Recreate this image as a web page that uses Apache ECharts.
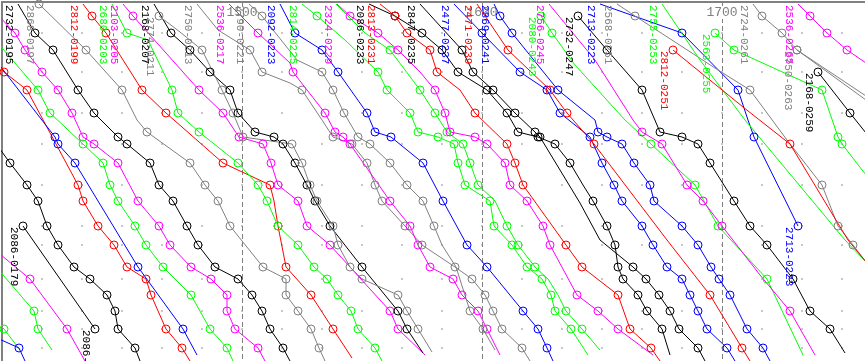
<!DOCTYPE html>
<html><head><meta charset="utf-8">
<script src="https://cdn.jsdelivr.net/npm/echarts@6/dist/echarts.min.js"></script>
<style>html,body{margin:0;padding:0;background:#fff}#c{width:865px;height:361px}</style>
</head><body><div id="c"></div>
<script>
// time in minutes after 14:00, distance in km from the first station (top)
const stationKm = [2,14,31,48,70,88,111,130,135,142,161,183,199,224,243,265,277,293,309,327,346];
const hourLabels = ['1400','1500','1600','1700'];
const dotStations = [2,4,6,9,11,13,14,16,18,19,20];
const dotMinutes = [10,20,30,40,50,60,70,80,90,100,110,120,130,140,150,160,170,180,190,200,210];

// a third value 0 marks a passing point (no stop circle)
const t2732_0195 = [[4,2,0],[8.25,31],[12.75,48],[19,88],[23,111],[29,135],[31.25,142],[37,161],[39.25,183],[42.75,199],[46.25,224],[49,243],[53.25,265],[59,277],[62.5,293],[65,309],[67,327],[70.25,346],[72,359,0]];
const t2868_0197 = [[9.25,2],[21,48],[30,88],[33.75,118,0],[36.25,130],[47,161],[50.75,183],[54,199],[57,224],[65.25,265],[71,277],[71,293],[74,309],[77.25,327],[79.25,346],[80.75,359,0]];
const t2812_0199 = [[20.25,2,0],[22.5,14],[26,31],[35,88],[41,111],[55.25,161],[67,183],[68,199,0],[69,224],[71,265],[77.25,293],[82.75,327],[87.5,356,0]];
const t2680_0203 = [[27.5,2,0],[31.25,31],[36.5,38,0],[42.5,88],[44,111],[49.25,130],[59,161],[64,183],[66.25,199],[69,224],[74,243],[78,265],[81.25,277],[84,293],[87.25,309],[89,327],[93.25,346],[95,359,0]];
const t2103_0205 = [[30.25,2,0],[32.75,14],[49.25,88],[55.25,111],[59.25,135],[65.25,142],[67.25,161],[69,183],[74,199],[76.25,224],[82,243],[97,309],[99,327],[105.75,353,0]];
const t2168_0207 = [[38,2,0],[42.25,31],[47,48],[52,70],[57,88],[59,111],[63.25,130],[68,135],[70.25,142],[73.25,161],[76.25,183],[78.25,199],[82,224],[90,265],[99,309],[101.25,327],[105.25,351,0]];
const t2774_0211 = [[39.25,14],[44.5,30,0],[50,48],[55,88],[57.75,111],[60.25,135],[72.5,142],[75,161],[77,183],[78.75,199],[82.75,224],[84,243],[87,265],[90,277],[99,293],[101.25,309],[104,327],[107.5,350,0]];
const t2750_0213 = [[48.75,2,0],[54,28,0],[62,48],[65,70],[72,81,0],[75,88],[80,118,0],[82.75,135],[87.5,142],[91.25,161],[93.25,183],[95,199],[100.75,224],[105,243],[113.25,265],[117.5,277],[120.75,293],[122.75,309],[125,327],[130,346],[132,359,0]];
const t2536_0217 = [[56.75,2,0],[64,31],[72,61,0],[72.75,70],[80.75,111],[83.25,130],[85.25,135],[87,142],[97,199],[102,224],[104,243],[107,265],[112.75,277],[115,293],[119,309],[121.25,327],[124.5,353,0]];
const t2790_0221 = [[61.75,2,0],[65,14],[73.75,58,0],[80,70],[82.75,88],[85.5,111],[89,135],[92,142],[97,161],[101.25,183],[105.25,199],[108,224],[110,243,0],[113.5,265,0],[117,309],[120.25,327],[123.25,348,0]];
const t2092_0223 = [[69.5,2,0],[73.25,31],[80,48],[84,70],[91.25,111],[93.25,130],[97.25,135],[105.25,161],[110.25,199],[116.25,243],[121.25,265],[130.25,309],[134,327],[136.25,346],[137.75,359,0]];
const t2814_0225 = [[75,2,0],[78.75,14],[85.75,38,0],[94,70],[96.25,88],[102,111],[104,130],[109,135],[113,142],[114,161],[115.75,183],[122,199],[123,224],[127.5,243],[131.25,265],[135,277],[137.25,293],[138.25,309],[142.25,327],[146.5,353,0]];
const tG_0227 = [[83.5,2,0],[90.75,31,0],[97,48],[104.5,88],[108.25,111],[111.25,130],[115.25,142],[117,161],[119,183],[123.25,199,0],[126.25,224],[129,243],[133.25,265],[136.5,277,0],[139,293,0],[141,309],[145,327],[149.5,348,0]];
const t2324_0229 = [[83.75,2,0],[87,14],[94,31],[99,48],[104.5,70,0],[108.25,88],[110.75,111],[112,130],[118.25,135],[121.25,142],[125.75,161],[127,183],[131.25,199],[135.25,224],[137,243],[143.75,293],[149,309],[154,327],[162.75,353,0]];
const t2086_0233 = [[91.75,2,0],[98.25,14],[105,31],[110,48],[114,70],[121.25,88],[126.25,111],[129,130],[134,135],[138.25,142],[142,161],[145.25,183,0],[147.75,199],[151.25,224],[153.25,243],[154,265],[155.25,277],[159,293],[161.25,309],[165,327],[167,353,0]];
const t2813_0231 = [[94.5,2,0],[98.25,14],[101.25,31],[107,48],[108.75,70],[114.5,88,0],[118.25,111],[126.25,142],[128.25,161],[130.25,183],[141,243],[145,265],[154,293],[157,327],[162.25,346],[164.5,359,0]];
const t2847_0235 = [[104.5,2,0],[115,48],[117.75,70],[122.75,88],[128.25,111],[133.25,130],[134.5,135],[144.5,201,0],[149.5,238,0],[157.75,265],[161,277],[164.25,293],[167,309],[169.25,327],[174,346],[175.75,359,0]];
const t2477_0237 = [[113,2,0],[120,31],[129.5,70],[136.25,88],[139.5,111],[147,135],[150,161],[153,183],[155,199],[160,224],[162.75,243],[166.25,265],[170,277],[172,293],[174,309],[176.25,327],[181.25,346],[183.25,359,0]];
const t2471_0239 = [[118.75,2,0],[126.5,48],[137,88],[141.25,111],[148,142],[166.25,238,0],[177,293],[185,346],[187,359,0]];
const t2869_0241 = [[123,2,0],[124.5,14],[127.5,31],[139,88],[148.25,118,0],[149,130],[151.25,135],[155,142],[158,161],[162,183],[163,199],[170,224],[174,243],[177.25,265],[179.25,277],[182,293],[186.25,327],[190.25,346],[192,359,0]];
const t2080_0243 = [[134.75,14],[137.5,31],[143.25,63,0],[155.75,118,0],[162.25,142],[173.25,183],[179,224],[191.25,277],[200.25,353,0]];
const t2756_0245 = [[136.75,2,0],[148.25,58,0],[157.75,118,0],[160,130],[165,142],[171.25,183],[175.25,199],[180,224],[189.5,273,0],[197,309],[203.25,353,0]];
const t2732_0247 = [[144,14],[151.25,48],[160,88],[164.5,130],[170,135],[174,142],[177,161],[183,199],[187,224],[191.25,243],[197.75,277],[202,309],[207,327],[210.75,351,0]];
const t2713_0223 = [[149.5,2,0],[170,31],[184,88],[186.5,118,0],[188,135],[199,224]];
const t2568_0251 = [[153.75,2,0],[158.25,14],[179,68,0],[187,88],[196.25,138,0],[205,183],[209,224],[212.75,243],[216,260,0]];
const t2755_0253 = [[165,2,0],[174.5,58,0],[185.75,118,0],[210.75,238,0],[216,260,0]];
const t2812_0251 = [[167.75,48],[185.25,105,0],[197,142],[211.5,238,0],[216,260,0]];
const t2563_0255 = [[178.25,31],[183,48],[205,88],[209,135],[210,142],[216,173,0]];
const t2724_0261 = [[187.75,2,0],[190,14],[195,31],[198.75,48],[216,94,0]];
const t2536_0265 = [[199,2,0],[202,14],[206.25,31],[211.25,48],[216,61,0]];
const t2750_0263 = [[198.75,48],[216,98,0]];
const t2168_0259 = [[204,70],[212,111],[216,131,0]];
const t2086_0179 = [[5.25,224],[23.25,327]];
// trains already running at 14:00
const tM1 = [[-1.75,10,0],[3.25,31],[5.75,48],[10,70],[14,88],[17.5,111],[20.25,135],[23,142],[29,161],[34,199],[39.25,224],[42,243],[47.25,265],[52.25,277],[56.25,293],[56.25,309],[58.25,327],[64,346],[65.75,359,0]];
const tG1 = [[-1.25,40,0],[9,88],[12,111],[20.25,142],[25.25,161],[27,183],[29,199],[33.25,224],[36,243],[40.25,265],[47.25,293],[52,327],[56.25,346],[57.75,359,0]];
const tR1 = [[-1.75,60,0],[0.5,70],[6.25,88],[19,183],[20.25,199],[24,224],[28,243],[31.25,265],[36,277],[37.25,293],[41,327],[45,346],[47,359,0]];
const tB1 = [[-1.25,60,0],[13.25,135],[14,142],[18.25,161],[34,265],[45.25,327],[48.75,353,0]];
const tK1 = [[-1.25,143,0],[2,161],[6.25,183],[9,199],[11.25,224],[14,243],[18,265],[22,277],[26.25,293],[28.25,309],[29,327],[33.25,346],[34.5,359,0]];
const tM2 = [[-1.75,248,0],[7,277],[16.25,327],[20.75,359,0]];
const tG2 = [[-1.25,266,0],[8,309],[9,327],[12.5,348,0]];
const tG3 = [[-1.25,320,0],[0.5,327],[4.5,348,0]];
const tB2 = [[-1.25,336,0],[4.25,346],[5.75,359,0]];

const palette = {k:'#000000', g:'#808080', r:'#ff0000', n:'#00ff00', m:'#ff00ff', b:'#0000ff'};
const trains = [
  ['', 'm', tM1, 0], ['', 'n', tG1, 0], ['', 'r', tR1, 0], ['', 'b', tB1, 0], ['', 'k', tK1, 0],
  ['', 'm', tM2, 0], ['', 'n', tG2, 0], ['', 'n', tG3, 0], ['', 'b', tB2, 0],
  ['2086-0179', 'k', t2086_0179, 3],
  ['2732-0195', 'k', t2732_0195, 1], ['2868-0197', 'g', t2868_0197, 1], ['2812-0199', 'r', t2812_0199, 1],
  ['2680-0203', 'n', t2680_0203, 1], ['2103-0205', 'm', t2103_0205, 1], ['2168-0207', 'k', t2168_0207, 1],
  ['2774-0211', 'g', t2774_0211, 1], ['2750-0213', 'g', t2750_0213, 1], ['2536-0217', 'm', t2536_0217, 1],
  ['2790-0221', 'g', t2790_0221, 1], ['2092-0223', 'b', t2092_0223, 1], ['2814-0225', 'n', t2814_0225, 1],
  ['', 'n', tG_0227, 0], ['2324-0229', 'm', t2324_0229, 1], ['2086-0233', 'k', t2086_0233, 1],
  ['2813-0231', 'r', t2813_0231, 1], ['2847-0235', 'k', t2847_0235, 1], ['2477-0237', 'b', t2477_0237, 1],
  ['2471-0239', 'r', t2471_0239, 1], ['2869-0241', 'b', t2869_0241, 1], ['2080-0243', 'n', t2080_0243, 1],
  ['2756-0245', 'm', t2756_0245, 1], ['2732-0247', 'k', t2732_0247, 1], ['2713-0223', 'b', t2713_0223, 3],
  ['2568-0251', 'g', t2568_0251, 1], ['2755-0253', 'n', t2755_0253, 1], ['2812-0251', 'r', t2812_0251, 1],
  ['2563-0255', 'n', t2563_0255, 1], ['2724-0261', 'g', t2724_0261, 1], ['2536-0265', 'm', t2536_0265, 1],
  ['2750-0263', 'g', t2750_0263, 1], ['2168-0259', 'k', t2168_0259, 1]
];

const series = [];
const dots = [];
dotStations.forEach(si => dotMinutes.forEach(m => dots.push([m, stationKm[si]])));
series.push({type:'scatter', data:dots, symbol:'rect', symbolSize:1.6, itemStyle:{color:'#8c8c8c'}, silent:true, z:1});

const labelData = [];
trains.forEach(([name, c, pts, lab]) => {
  const col = palette[c];
  series.push({
    type:'line', data: pts.map(p => p.length > 2 ? {value:[p[0],p[1]], symbol:'none'} : [p[0],p[1]]),
    symbol:'circle', symbolSize:8, showAllSymbol:true, clip:true, silent:true, z:2,
    lineStyle:{color:col, width:1}, itemStyle:{color:'rgba(255,255,255,0)', borderColor:col, borderWidth:1},
    emphasis:{disabled:true}
  });
  if (lab & 1) { const p = pts[0]; labelData.push([p[0], p[1], name, col]); }
  if (lab & 2) { const p = pts[pts.length-1]; labelData.push([p[0], p[1], name, col]); }
});

series.push({
  type:'custom', z:5, silent:true, data: labelData, clip:false,
  renderItem: (params, api) => {
    const pt = api.coord([api.value(0), api.value(1)]);
    const d = labelData[params.dataIndex];
    return {type:'text', x: pt[0] - 9, y: pt[1] + 1, rotation: -Math.PI/2,
      style:{text:d[2], fill:d[3], font:'11px "Liberation Mono"', align:'left', verticalAlign:'middle'}};
  }
});

const chart = echarts.init(document.getElementById('c'), null, {renderer:'canvas'});
chart.setOption({
  animation:false, backgroundColor:'#ffffff',
  grid:{left:2, top:2, right:0, bottom:0, containLabel:false},
  xAxis:{type:'value', position:'top', min:0, max:215.75, interval:60,
    axisLine:{show:true, lineStyle:{color:'#808080', width:2}},
    axisTick:{show:false},
    axisLabel:{show:true, inside:true, margin:4, showMinLabel:false, showMaxLabel:false,
      color:'#808080', fontFamily:'Liberation Mono', fontSize:13, backgroundColor:'#ffffff', padding:[0,1],
      formatter: v => hourLabels[Math.round(v/60)] || ''},
    splitLine:{show:true, lineStyle:{color:'#808080', width:1, type:[5,3]}}},
  yAxis:{type:'value', inverse:true, min:0, max:359,
    axisLine:{show:true, onZero:false, lineStyle:{color:'#808080', width:2}},
    axisTick:{show:false}, axisLabel:{show:false}, splitLine:{show:false}},
  series
});
</script></body></html>
